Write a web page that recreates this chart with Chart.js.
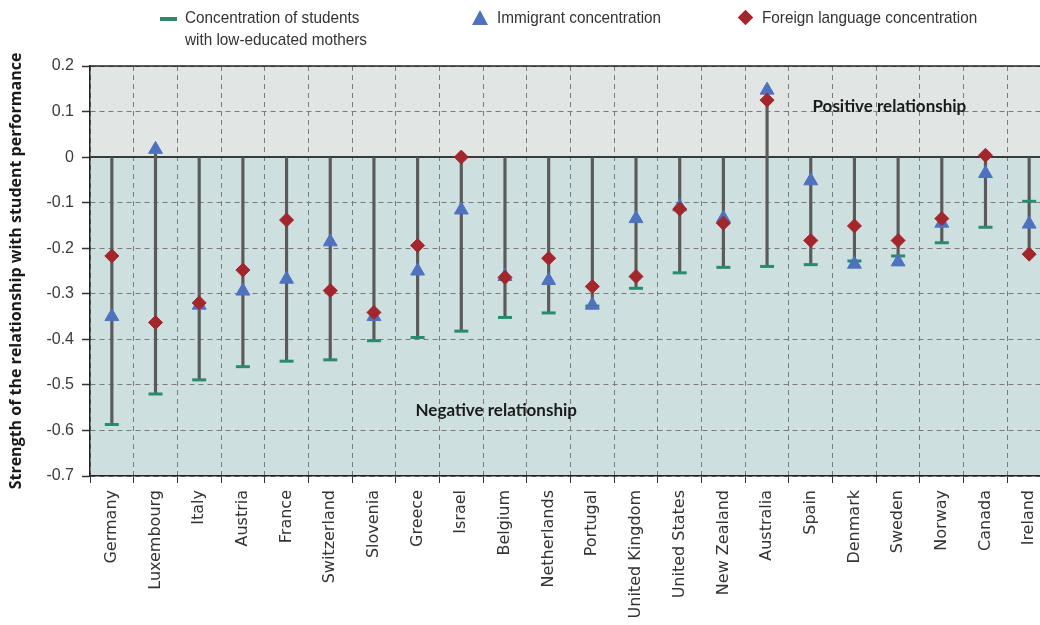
<!DOCTYPE html>
<html>
<head>
<meta charset="utf-8">
<script src="https://cdn.jsdelivr.net/npm/chart.js@4.4.1/dist/chart.umd.min.js"></script>
<style>
  html, body { margin: 0; padding: 0; background: #fff; overflow: hidden; }
  #wrap { position: relative; width: 1040px; height: 625px; overflow: hidden; }
  #chart { position: absolute; left: 0; top: 0; }
  .lg { position: absolute; font-family: "Liberation Sans Narrow", "Liberation Sans", sans-serif; font-size: 17px; color: #333; line-height: 22px; white-space: nowrap; transform: scaleX(0.9); transform-origin: left top; }
  .dash { position: absolute; left: 160px; top: 17px; width: 17px; height: 4px; background: #2a8a6e; }
  .tri { position: absolute; left: 472px; top: 10px; width: 0; height: 0; border-left: 8px solid transparent; border-right: 8px solid transparent; border-bottom: 15px solid #4f72bf; }
  .dia { position: absolute; left: 740px; top: 12px; width: 11px; height: 11px; background: #a3262c; transform: rotate(45deg); }
</style>
</head>
<body>
<div id="wrap">
  <canvas id="chart" width="1051" height="625"></canvas>
  <div class="dash"></div>
  <div class="lg" style="left:185px; top:7px;">Concentration of students<br>with low-educated mothers</div>
  <div class="tri"></div>
  <div class="lg" style="left:497px; top:7px;">Immigrant concentration</div>
  <div class="dia"></div>
  <div class="lg" style="left:762px; top:7px;">Foreign language concentration</div>
</div>
<script>
// countries, in chart order
const countries = ['Germany', 'Luxembourg', 'Italy', 'Austria', 'France', 'Switzerland', 'Slovenia',
  'Greece', 'Israel', 'Belgium', 'Netherlands', 'Portugal', 'United Kingdom', 'United States',
  'New Zealand', 'Australia', 'Spain', 'Denmark', 'Sweden', 'Norway', 'Canada', 'Ireland'];

// concentration of students with low-educated mothers
const lowEducated = [-0.587, -0.520, -0.489, -0.460, -0.448, -0.445, -0.403,
  -0.396, -0.382, -0.352, -0.342, -0.327, -0.288, -0.254,
  -0.242, -0.240, -0.236, -0.228, -0.217, -0.188, -0.154, -0.097];

// immigrant concentration
const immigrant = [-0.350, 0.017, -0.325, -0.294, -0.268, -0.186, -0.350,
  -0.250, -0.116, -0.262, -0.271, -0.325, -0.135, -0.109,
  -0.134, 0.147, -0.052, -0.235, -0.230, -0.145, -0.036, -0.147];

// foreign language concentration
const foreignLang = [-0.217, -0.363, -0.320, -0.248, -0.138, -0.293, -0.341,
  -0.194, 0.000, -0.264, -0.222, -0.284, -0.262, -0.114,
  -0.145, 0.125, -0.183, -0.151, -0.183, -0.135, 0.004, -0.213];

const yTicks = { min: -0.7, max: 0.2, step: 0.1 };

// stems run from zero to the furthest marker
const stems = countries.map((c, i) => {
  const vals = [0, lowEducated[i], immigrant[i], foreignLang[i]];
  return [Math.min(...vals), Math.max(...vals)];
});

const bgPlugin = {
  id: 'bg',
  beforeDraw(chart) {
    const { ctx, chartArea: a, scales: { y } } = chart;
    const y0 = y.getPixelForValue(0);
    ctx.save();
    ctx.fillStyle = '#e1e6e4';
    ctx.fillRect(a.left, a.top, a.right - a.left, y0 - a.top);
    ctx.fillStyle = '#cddfdf';
    ctx.fillRect(a.left, y0, a.right - a.left, a.bottom - y0);
    ctx.restore();
  },
  beforeDatasetsDraw(chart) {
    const { ctx, chartArea: a, scales: { x, y } } = chart;
    const y0 = y.getPixelForValue(0);
    ctx.save();
    ctx.strokeStyle = '#3a3a3a';
    ctx.lineWidth = 2;
    ctx.beginPath();
    ctx.moveTo(a.left, y0);
    ctx.lineTo(a.right, y0);
    ctx.stroke();
    ctx.lineWidth = 1.5;
    ctx.strokeStyle = '#222';
    ctx.beginPath();
    ctx.moveTo(a.left, a.top);
    ctx.lineTo(a.right, a.top);
    ctx.stroke();
    // annotations
    ctx.fillStyle = '#1a1a1a';
    ctx.font = 'bold 17px Lato, "Open Sans", sans-serif';
    ctx.textAlign = 'center';
    ctx.textBaseline = 'middle';
    ctx.fillText('Positive relationship', x.getPixelForValue(17.8), y.getPixelForValue(0.11));
    ctx.fillText('Negative relationship', x.getPixelForValue(8.8), y.getPixelForValue(-0.557));
    ctx.restore();
  }
};

new Chart(document.getElementById('chart').getContext('2d'), {
  type: 'bar',
  data: {
    labels: countries,
    datasets: [
      {
        label: 'range',
        data: stems,
        backgroundColor: '#5a5a5a',
        barThickness: 2.5,
        order: 3,
      },
      {
        type: 'line',
        label: 'Concentration of students with low-educated mothers',
        data: lowEducated,
        showLine: false,
        pointStyle: 'line',
        pointRadius: 7,
        pointBorderWidth: 3,
        borderColor: '#2a8a6e',
        backgroundColor: '#2a8a6e',
        order: 2,
      },
      {
        type: 'line',
        label: 'Immigrant concentration',
        data: immigrant,
        showLine: false,
        pointStyle: 'triangle',
        pointRadius: 8,
        pointBorderWidth: 1,
        borderColor: '#4f72bf',
        backgroundColor: '#4f72bf',
        order: 1,
      },
      {
        type: 'line',
        label: 'Foreign language concentration',
        data: foreignLang,
        showLine: false,
        pointStyle: 'rectRot',
        pointRadius: 7,
        pointBorderWidth: 1,
        borderColor: '#a3262c',
        backgroundColor: '#a3262c',
        order: 0,
      },
    ],
  },
  options: {
    responsive: false,
    animation: false,
    layout: { autoPadding: false, padding: { top: 66, right: 0, left: 0, bottom: 0 } },
    plugins: {
      legend: { display: false },
      tooltip: { enabled: false },
    },
    scales: {
      x: {
        grid: { offset: true, color: '#7a7a7a', lineWidth: 1, tickLength: 7, tickColor: '#333', tickWidth: 1 },
        border: { color: '#222', width: 1.5, dash: [5, 4] },
        ticks: {
          autoSkip: false, maxRotation: 90, minRotation: 90, padding: 7,
          color: '#333', font: { family: '"DejaVu Sans", sans-serif', size: 16 },
        },
        afterFit(scale) {
          scale.height = 149;
          scale.paddingRight = 0;
          scale.paddingLeft = 0;
        },
      },
      y: {
        min: yTicks.min,
        max: yTicks.max,
        grid: { color: '#7a7a7a', lineWidth: 1, tickLength: 8, tickColor: '#333', tickWidth: 1.5 },
        border: { color: '#222', width: 1.5, dash: [5, 4] },
        ticks: {
          stepSize: yTicks.step,
          padding: 8,
          color: '#3a3a3a',
          font: { family: '"Liberation Sans Narrow", "Liberation Sans", sans-serif', size: 16 },
          callback: (v) => Math.abs(v) < 1e-9 ? '0' : v.toFixed(1),
        },
        title: {
          display: true,
          text: 'Strength of the relationship with student performance',
          color: '#1a1a1a',
          font: { family: '"Open Sans", sans-serif', size: 16, weight: 'bold' },
          padding: { top: 7, bottom: 0 },
        },
        afterFit(scale) { scale.width = 90; },
      },
    },
  },
  plugins: [bgPlugin],
});
</script>
</body>
</html>
